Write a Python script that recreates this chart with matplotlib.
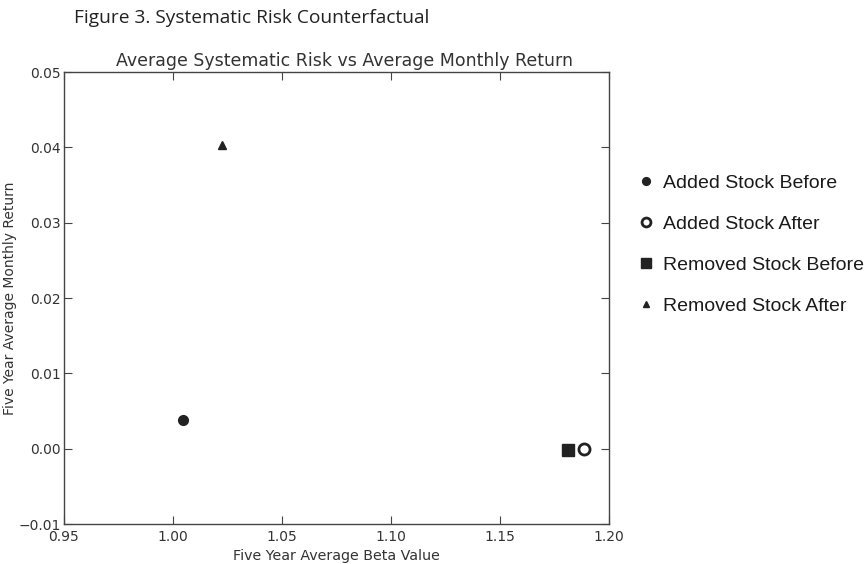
import matplotlib
matplotlib.use("Agg")
import matplotlib.pyplot as plt

plt.rcParams["font.family"] = ["DejaVu Sans"]

labels = ["Added Stock Before", "Added Stock After", "Removed Stock Before", "Removed Stock After"]
beta = [1.0045, 1.1885, 1.181, 1.0225]
ret = [0.0038, 0.0000, -0.0002, 0.0403]
markers = ["o", "o", "s", "^"]
filled = [True, False, True, True]
sizes = [7, 8, 9, 6]

x_ticks = [0.95, 1.00, 1.05, 1.10, 1.15, 1.20]
y_ticks = [-0.01, 0.00, 0.01, 0.02, 0.03, 0.04, 0.05]

dark = "#222222"
txt = "#333333"

fig = plt.figure(figsize=(8.66, 5.64), dpi=100)
ax = fig.add_axes([0.0739, 0.0709, 0.6293, 0.8014])

handles = []
for x, y, m, f, s, lab in zip(beta, ret, markers, filled, sizes, labels):
    h, = ax.plot([x], [y], linestyle="none", marker=m, markersize=s,
                 markerfacecolor=dark if f else "white",
                 markeredgecolor=dark, markeredgewidth=2 if not f else 1, label=lab)
    handles.append(h)

ax.set_xlim(0.95, 1.20)
ax.set_ylim(-0.01, 0.05)
ax.set_xticks(x_ticks)
ax.set_xticklabels([f"{v:.2f}" for v in x_ticks])
ax.set_yticks(y_ticks)
ax.set_yticklabels([f"{v:.2f}".replace("-", "\u2212") for v in y_ticks])
ax.tick_params(direction="in", top=True, right=True, length=6, width=0.8,
               labelsize=10, colors="#444444", labelcolor=txt)
ax.tick_params(axis="y", pad=2)
ax.tick_params(axis="x", pad=4)
for sp in ax.spines.values():
    sp.set_color("#444444")
    sp.set_linewidth(1.0)

ax.set_title("Average Systematic Risk vs Average Monthly Return", fontsize=12.5,
             color=txt, pad=4, x=0.514)
ax.set_xlabel("Five Year Average Beta Value", fontsize=10.3, color=txt, labelpad=4)
ax.set_ylabel("Five Year Average Monthly Return", fontsize=10, color=txt, labelpad=1)

leg = fig.legend(handles=handles, labels=labels, loc="upper left",
                 bbox_to_anchor=(0.712, 0.722), frameon=False,
                 prop={"family": "Liberation Sans", "size": 14},
                 labelspacing=1.2, handletextpad=0.3, handlelength=1.2,
                 markerscale=0.8)
for t in leg.get_texts():
    t.set_color("#1a1a1a")

fig.text(0.086, 0.968, "Figure 3. Systematic Risk Counterfactual", fontsize=13.8,
         family="Open Sans", color="#222222", va="center")

fig.savefig("out.png", dpi=100)
